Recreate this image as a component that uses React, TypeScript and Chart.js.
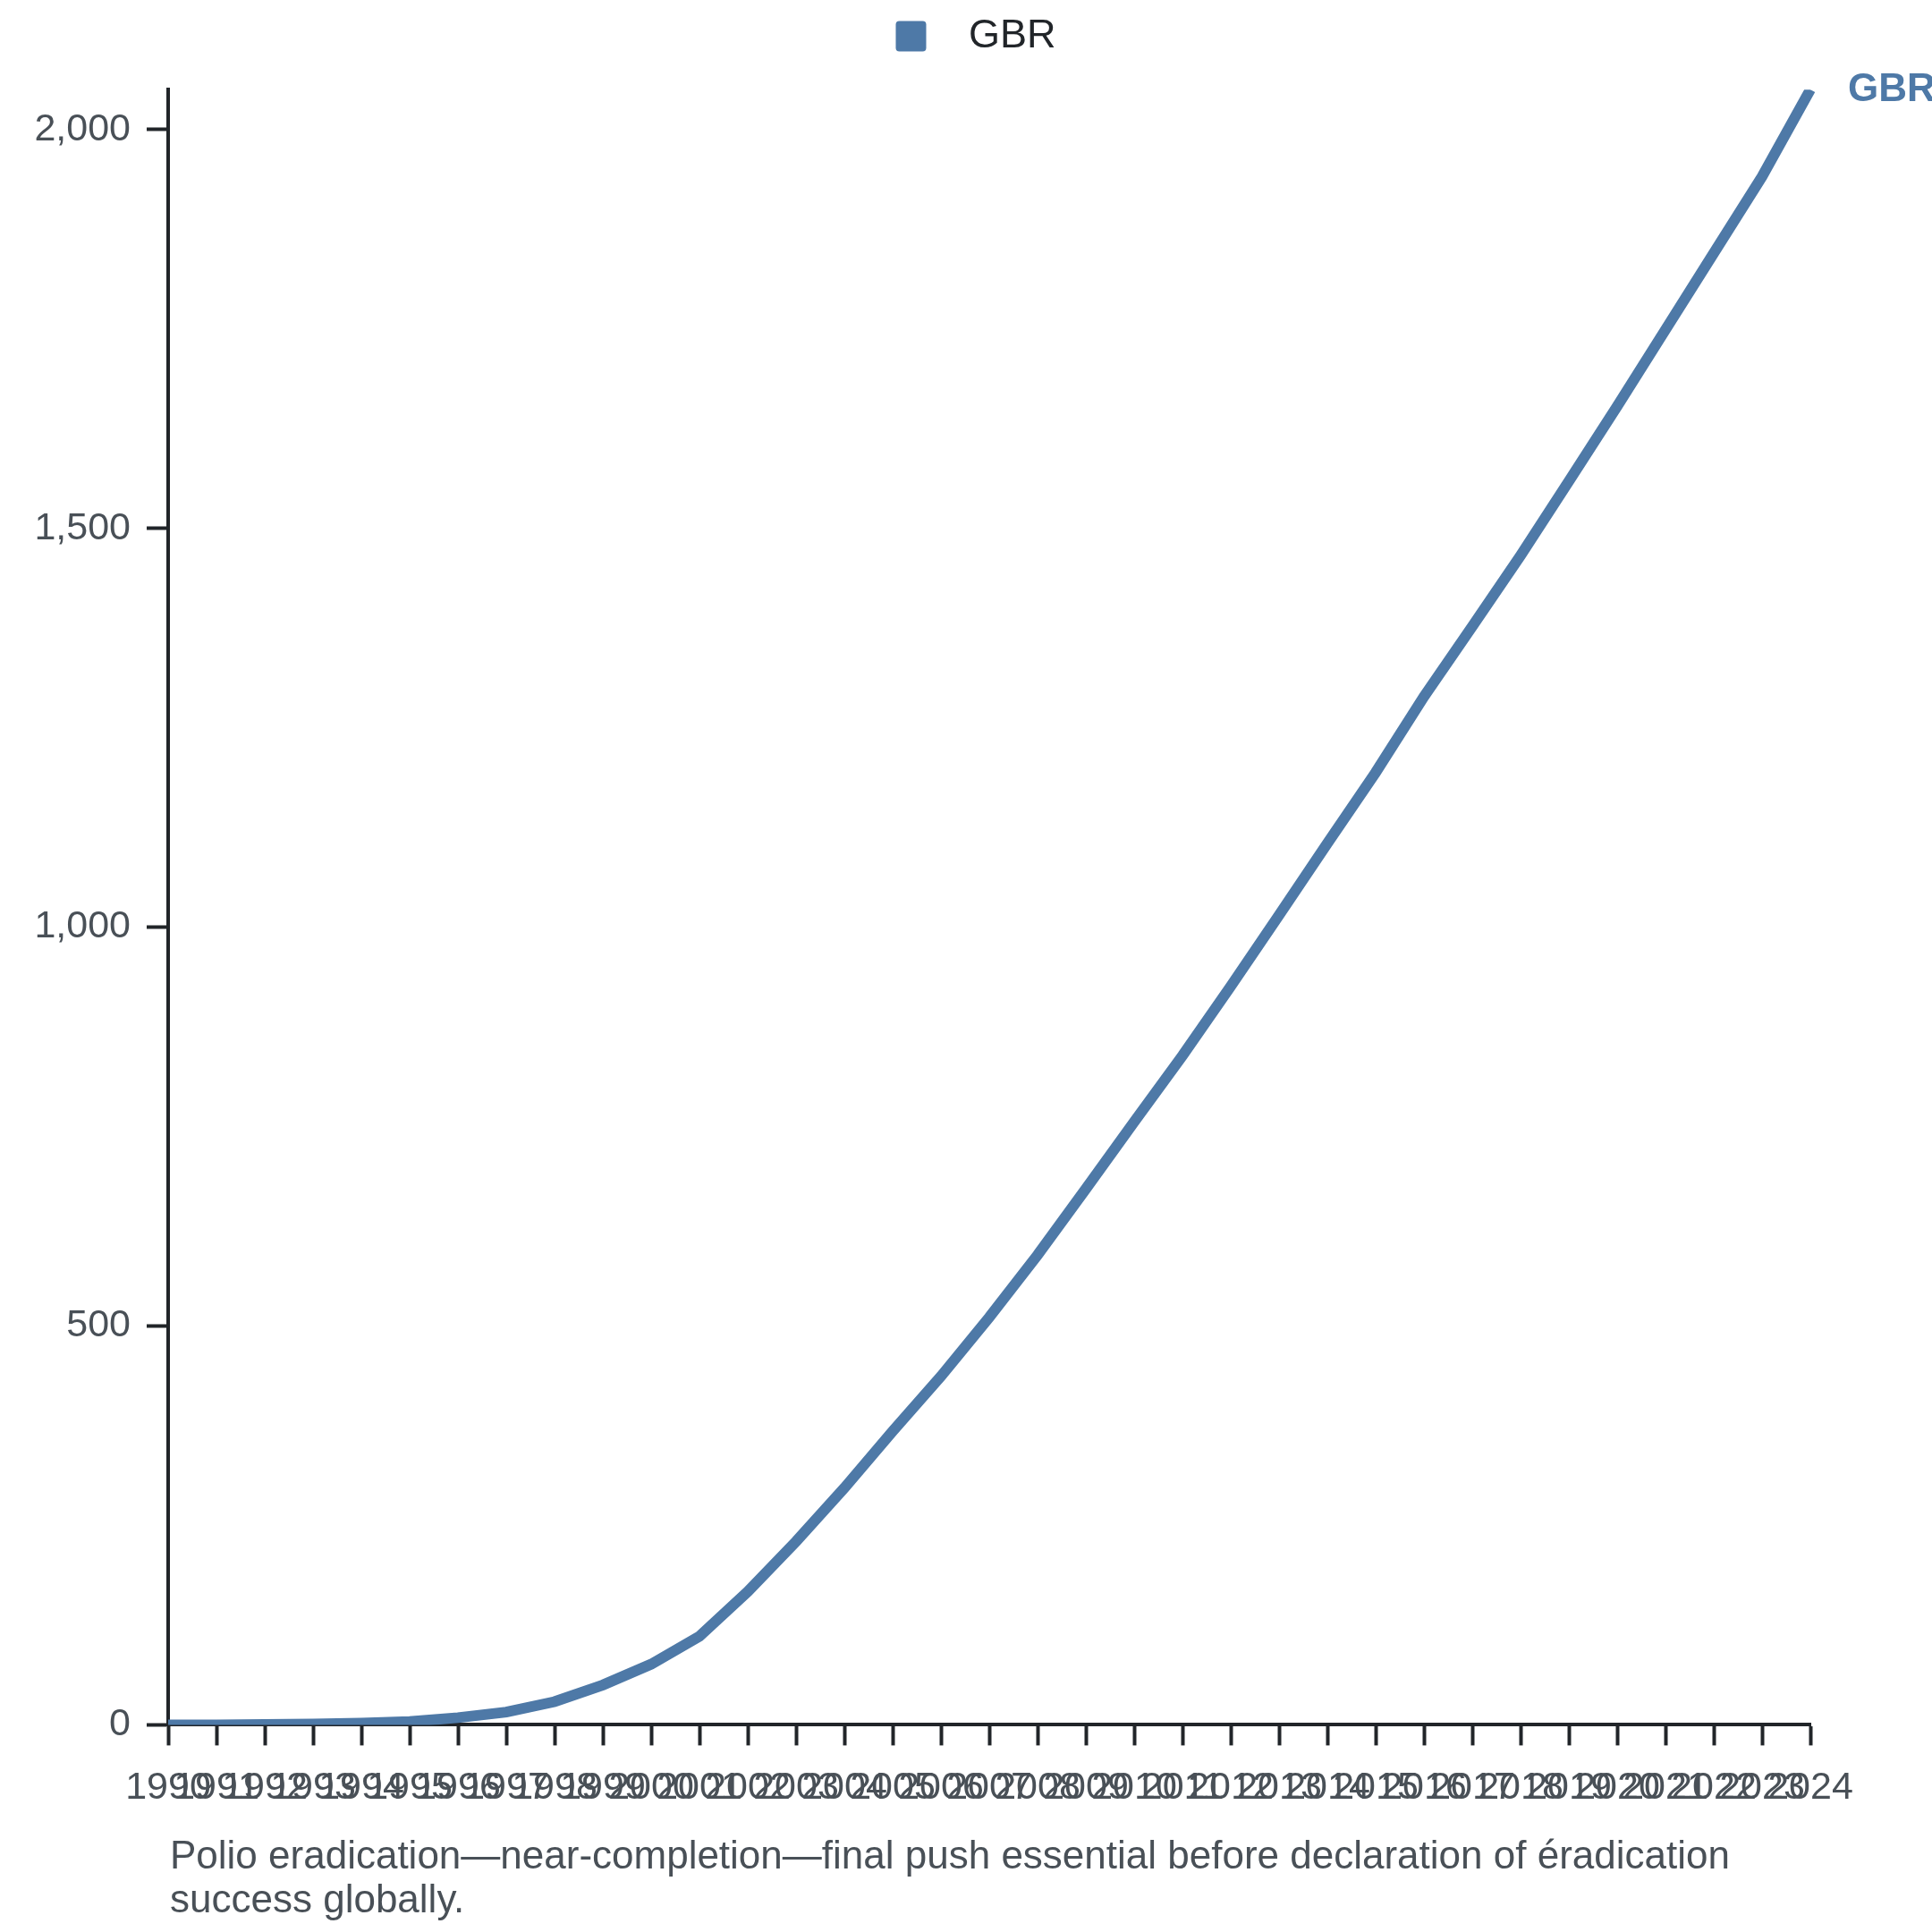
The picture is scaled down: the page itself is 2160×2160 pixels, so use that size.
import React, { useEffect, useRef } from "react";
import { Chart, registerables } from "chart.js";

Chart.register(...registerables);

const years: string[] = [
  "1990", "1991", "1992", "1993", "1994", "1995", "1996", "1997", "1998", "1999",
  "2000", "2001", "2002", "2003", "2004", "2005", "2006", "2007", "2008", "2009",
  "2010", "2011", "2012", "2013", "2014", "2015", "2016", "2017", "2018", "2019",
  "2020", "2021", "2022", "2023", "2024",
];

const gbrValues: number[] = [
  0, 0, 0.5, 1, 2, 4, 9, 16, 29, 50,
  76, 111, 167, 230, 297, 368, 437, 511, 589, 672,
  756, 839, 926, 1015, 1105, 1194, 1289, 1377, 1466, 1559,
  1653, 1749, 1845, 1941, 2050,
];

const yTickValues: number[] = [0, 500, 1000, 1500, 2000];
const yMax = 2050;

const seriesName = "GBR";
const captionLines: string[] = [
  "Polio eradication\u2014near-completion\u2014final push essential before declaration of \u00e9radication",
  "success globally.",
];

const LINE_COLOR = "#4e79a7";
const AXIS_COLOR = "#212529";
const TICK_TEXT = "#495057";
const FONT = "'Liberation Sans', Arial, Helvetica, sans-serif";

export default function App() {
  const canvasRef = useRef<HTMLCanvasElement | null>(null);

  useEffect(() => {
    document.body.style.margin = "0";
    const canvas = canvasRef.current;
    if (!canvas) return;

    const extras = {
      id: "extras",
      afterDraw(chart: any) {
        const ctx = chart.ctx;
        const area = chart.chartArea;
        const meta = chart.getDatasetMeta(0);
        const last = meta.data[meta.data.length - 1];
        ctx.save();
        // end-of-line label
        ctx.fillStyle = LINE_COLOR;
        ctx.font = `bold 44px ${FONT}`;
        ctx.textAlign = "left";
        ctx.textBaseline = "middle";
        ctx.fillText(seriesName, last.x + 42, last.y + 1);
        // caption
        ctx.fillStyle = TICK_TEXT;
        ctx.font = `44px ${FONT}`;
        ctx.textBaseline = "middle";
        captionLines.forEach((line, i) => {
          ctx.fillText(line, area.left + 2, 2077 + i * 49);
        });
        ctx.restore();
      },
    };

    const chart = new Chart(canvas, {
      type: "line",
      data: {
        labels: years,
        datasets: [
          {
            label: seriesName,
            data: gbrValues,
            borderColor: LINE_COLOR,
            backgroundColor: LINE_COLOR,
            borderWidth: 12,
            pointRadius: 0,
            tension: 0,
            fill: false,
            yAxisID: "y",
          },
        ],
      },
      options: {
        animation: false,
        responsive: false,
        devicePixelRatio: 1,
        layout: {
          padding: { left: 22, right: 0, top: 0, bottom: 113 },
        },
        plugins: {
          legend: {
            display: true,
            position: "top",
            labels: {
              font: { family: FONT, size: 45 },
              color: AXIS_COLOR,
              boxWidth: 34,
              boxHeight: 34,
              padding: 18,
              useBorderRadius: true,
              borderRadius: 4,
              generateLabels: (chart: any) => {
                const base = Chart.defaults.plugins.legend.labels.generateLabels(chart);
                return base.map((l: any) => ({
                  ...l,
                  text: "  " + l.text,
                  lineWidth: 0,
                  strokeStyle: "rgba(0,0,0,0)",
                }));
              },
            },
          },
          subtitle: {
            display: true,
            text: "",
            position: "top",
            weight: 500,
            font: { size: 1 },
            padding: { top: 0, bottom: 26 },
          },
          tooltip: { enabled: false },
          title: { display: false },
        },
        scales: {
          x: {
            type: "category",
            offset: false,
            grid: {
              display: true,
              drawOnChartArea: false,
              drawTicks: true,
              tickLength: 23,
              tickWidth: 4,
              tickColor: AXIS_COLOR,
            },
            border: { display: true, color: AXIS_COLOR, width: 4 },
            ticks: {
              autoSkip: false,
              maxRotation: 0,
              minRotation: 0,
              padding: 22,
              color: TICK_TEXT,
              font: { family: FONT, size: 43 },
            },
          },
          y: {
            type: "linear",
            position: "left",
            min: 0,
            max: yMax,
            afterBuildTicks: (scale: any) => {
              scale.ticks = yTickValues.map((v) => ({ value: v }));
            },
            afterFit: (scale: any) => {
              scale.width = 166;
            },
            grid: {
              display: true,
              drawOnChartArea: false,
              drawTicks: true,
              tickLength: 24,
              tickWidth: 4,
              tickColor: AXIS_COLOR,
            },
            border: { display: true, color: AXIS_COLOR, width: 4 },
            ticks: {
              padding: 18,
              color: TICK_TEXT,
              font: { family: FONT, size: 43 },
              callback: (v: any) => Number(v).toLocaleString("en-US"),
            },
          },
          yRightSpace: {
            type: "linear",
            position: "right",
            display: true,
            afterFit: (scale: any) => {
              scale.width = 136;
            },
            grid: { display: false, drawTicks: false },
            border: { display: false },
            ticks: { display: false },
          },
        },
      },
      plugins: [extras],
    });

    return () => chart.destroy();
  }, []);

  return (
    <div style={{ position: "absolute", left: 0, top: 0, width: 2160, height: 2160, background: "#fff" }}>
      <canvas ref={canvasRef} width={2160} height={2160} style={{ width: 2160, height: 2160 }} />
    </div>
  );
}
